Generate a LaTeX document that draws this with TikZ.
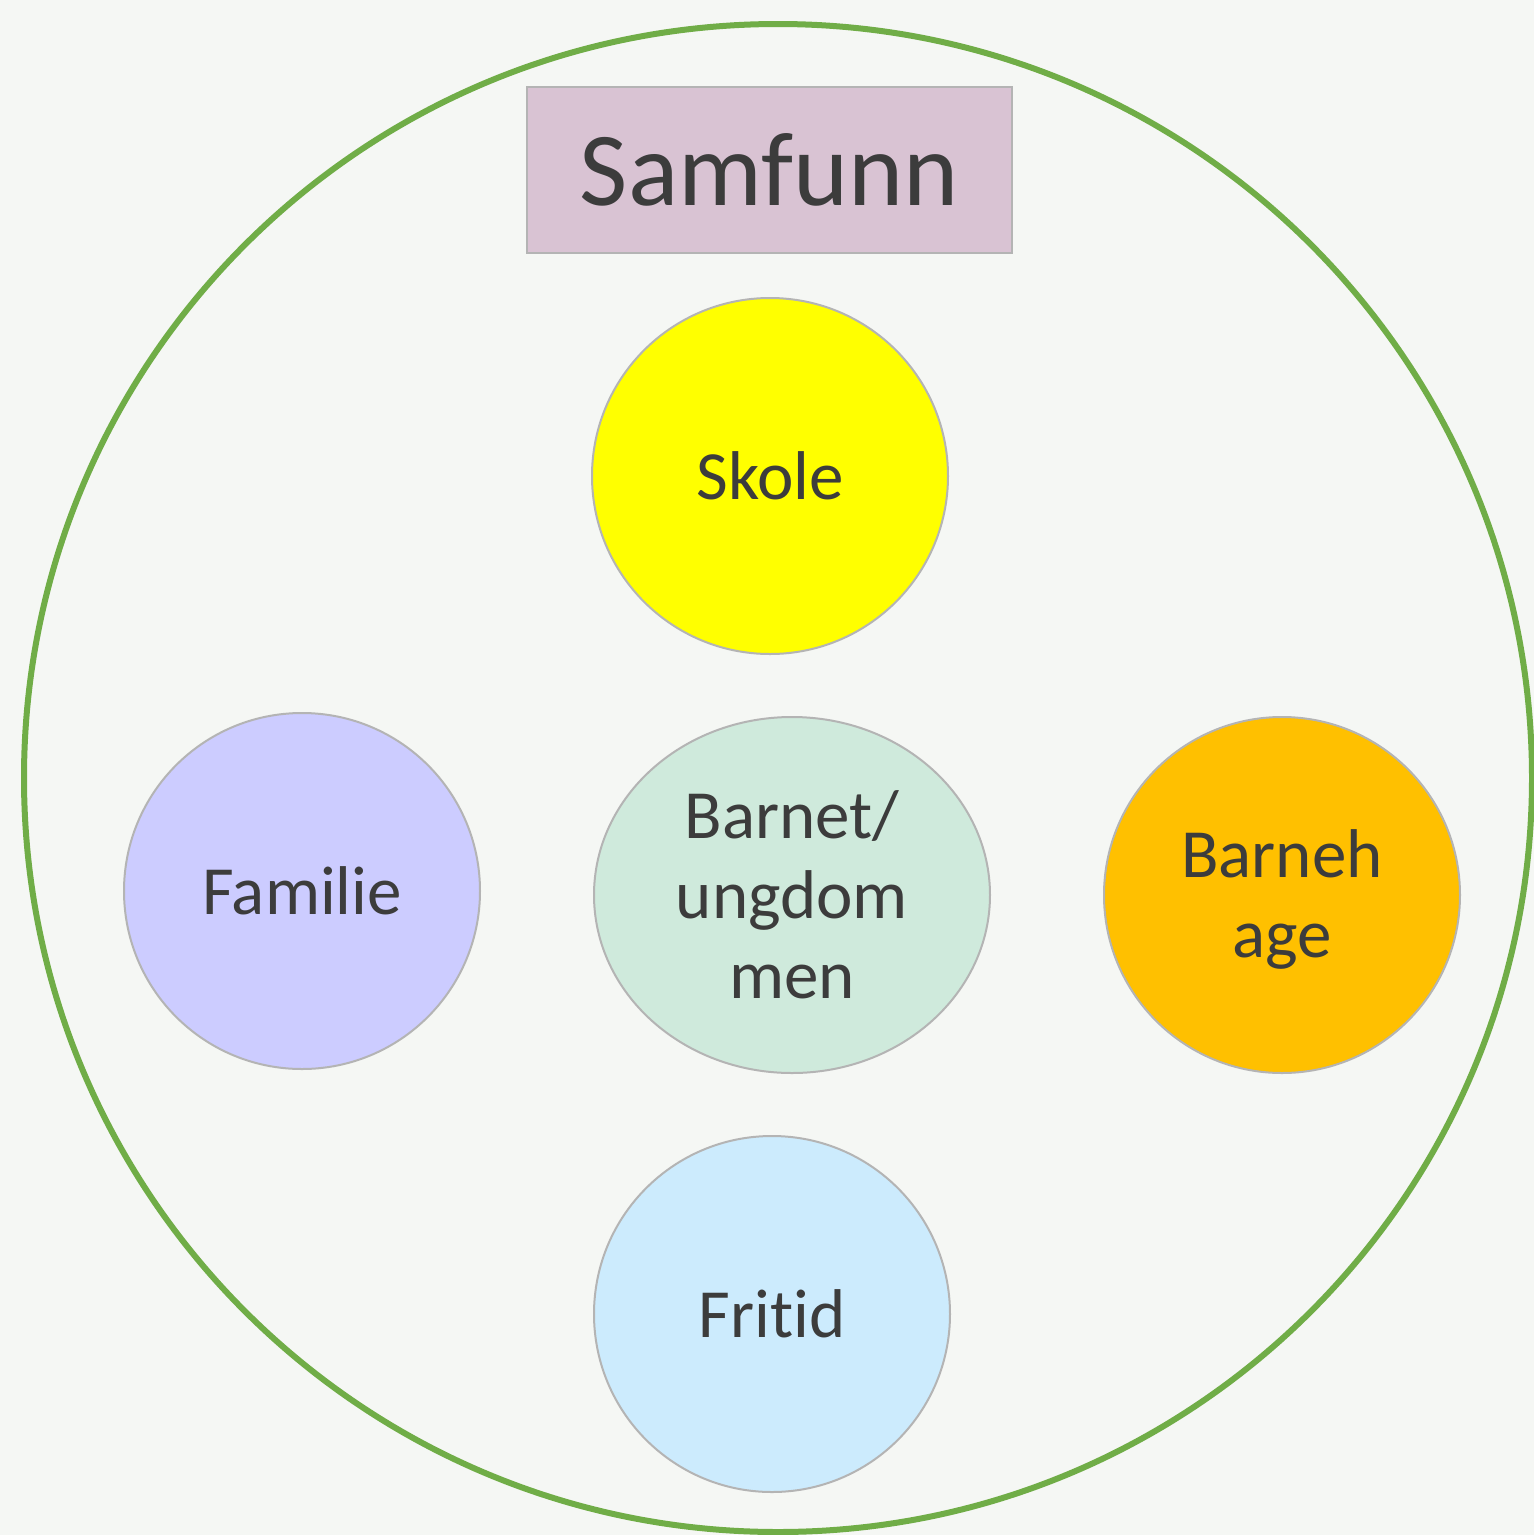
\documentclass[tikz,border=0pt]{standalone}
\usepackage{fontspec}
\setmainfont[Ligatures=NoCommon]{Carlito}
\usetikzlibrary{shapes.geometric}
\definecolor{bg}{HTML}{F5F7F4}
\definecolor{ring}{HTML}{70AD47}
\definecolor{txt}{HTML}{3C3C3C}
\definecolor{edge}{HTML}{B4B4B4}
\definecolor{samf}{HTML}{D9C3D3}
\definecolor{skole}{HTML}{FFFF00}
\definecolor{fam}{HTML}{CCCCFF}
\definecolor{barn}{HTML}{CFEADC}
\definecolor{bhage}{HTML}{FFC000}
\definecolor{frit}{HTML}{CCEBFD}
\tikzset{
  disc/.style={circle, draw=edge, line width=2pt, minimum size=356pt, inner sep=0pt,
    text=txt, font=\fontsize{69}{80}\selectfont, align=center},
}
\begin{document}
\begin{tikzpicture}[x=1pt,y=-1pt]
\fill[bg] (0,0) rectangle (1534,1535);
\useasboundingbox (0,0) rectangle (1534,1535);
\node[circle, draw=ring, line width=6pt, minimum size=1508pt, inner sep=0pt] (outer) at (778,778) {};
\node[draw=edge, line width=2pt, fill=samf, minimum width=485pt, minimum height=166pt, inner sep=0pt,
  text=txt, font=\fontsize{105}{120}\selectfont] (samfunn) at (769.5,170) {Samfunn};
\node[disc, fill=skole] (skole) at (770,476) {Skole};
\node[disc, fill=fam] (familie) at (302,891) {Familie};
\node[disc, ellipse, fill=barn, minimum width=396pt, minimum height=356pt] (barnet) at (792,895) {Barnet/\\ungdom\\men};
\node[disc, fill=bhage] (barnehage) at (1282,895) {\raisebox{-6pt}[\height][\depth]{\begin{tabular}{@{}c@{}}Barneh\\age\end{tabular}}};
\node[disc, fill=frit] (fritid) at (772,1314) {Fritid};
\end{tikzpicture}
\end{document}
